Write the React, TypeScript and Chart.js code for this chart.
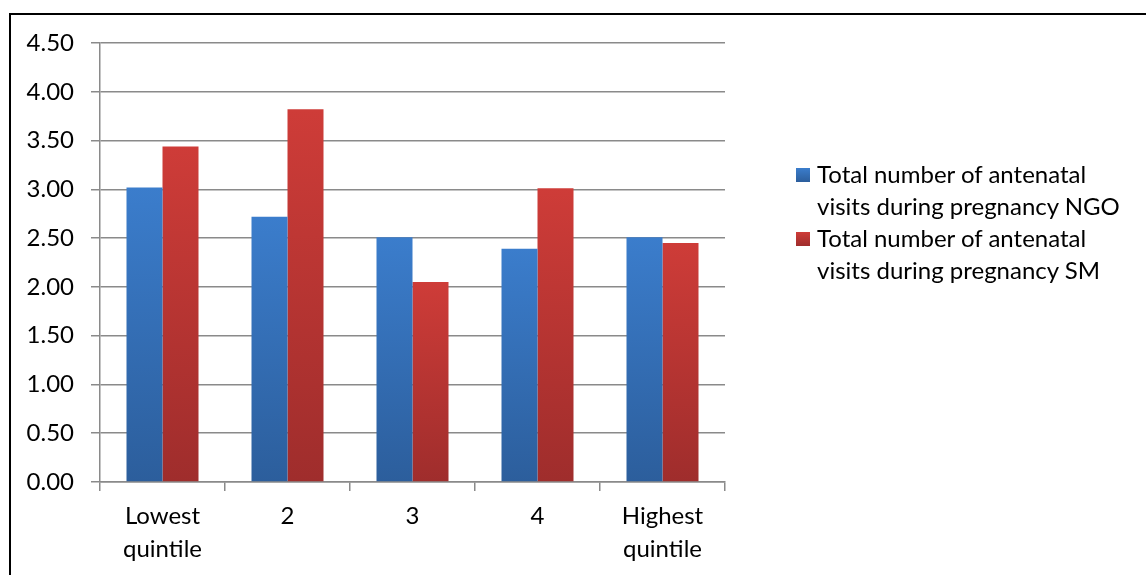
import React, { useEffect, useRef } from "react";
import { Chart, registerables } from "chart.js";
Chart.register(...registerables);

const categories: (string | string[])[] = [["Lowest", "quintile"], "2", "3", "4", ["Highest", "quintile"]];
const ngoValues = [3.02, 2.72, 2.51, 2.39, 2.51];
const smValues = [3.44, 3.82, 2.05, 3.01, 2.45];
const seriesLabels = [
  "Total number of antenatal visits during pregnancy NGO",
  "Total number of antenatal visits during pregnancy SM",
];
const yMin = 0;
const yMax = 4.5;
const yStep = 0.5;

const FONT = "Lato, 'Open Sans', sans-serif";
const blueTop = "#3b7dcc";
const blueBottom = "#2c5e9c";
const redTop = "#ce3c38";
const redBottom = "#9f2d2c";

function barGradient(top: string, bottom: string) {
  return (ctx: any) => {
    const chart = ctx.chart;
    const area = chart.chartArea;
    if (!area || ctx.type !== "data") return top;
    const yScale = chart.scales.y;
    const v = ctx.parsed ? ctx.parsed.y : 0;
    const yTop = yScale.getPixelForValue(v);
    const yBase = yScale.getPixelForValue(0);
    if (!isFinite(yTop) || yBase - yTop < 1) return top;
    const g = chart.ctx.createLinearGradient(0, yTop, 0, yBase);
    g.addColorStop(0, top);
    g.addColorStop(1, bottom);
    return g;
  };
}

export default function App() {
  const canvasRef = useRef<HTMLCanvasElement | null>(null);

  useEffect(() => {
    const canvas = canvasRef.current;
    if (!canvas) return;
    const chart = new Chart(canvas, {
      type: "bar",
      data: {
        labels: categories,
        datasets: [
          {
            label: seriesLabels[0],
            data: ngoValues,
            backgroundColor: barGradient(blueTop, blueBottom),
            borderWidth: 0,
          },
          {
            label: seriesLabels[1],
            data: smValues,
            backgroundColor: barGradient(redTop, redBottom),
            borderWidth: 0,
          },
        ],
      },
      options: {
        animation: false,
        responsive: false,
        maintainAspectRatio: false,
        layout: { padding: { left: 0, right: 421, top: 43, bottom: 0 } },
        plugins: {
          legend: { display: false },
          tooltip: { enabled: false },
        },
        datasets: {
          bar: { categoryPercentage: 0.576, barPercentage: 1 },
        },
        scales: {
          x: {
            offset: true,
            grid: {
              offset: true,
              drawOnChartArea: false,
              drawTicks: true,
              tickLength: 9,
              color: "#8a8a8a",
              lineWidth: 1.5,
            },
            border: { display: true, color: "#8a8a8a", width: 1.5 },
            ticks: {
              color: "#000",
              font: { family: FONT, size: 24, lineHeight: 1.38 },
              padding: 9,
              maxRotation: 0,
              autoSkip: false,
            },
            afterFit: (scale: any) => {
              scale.height = 93;
            },
          },
          y: {
            min: yMin,
            max: yMax,
            ticks: {
              stepSize: yStep,
              color: "#000",
              font: { family: FONT, size: 24 },
              padding: 17,
              callback: (v: any) => Number(v).toFixed(2),
            },
            grid: {
              color: "#8a8a8a",
              lineWidth: 1.5,
              tickLength: 9,
              drawTicks: true,
            },
            border: { display: true, color: "#8a8a8a", width: 1.5 },
            afterFit: (scale: any) => {
              scale.width = 100;
            },
          },
        },
      },
    });
    return () => chart.destroy();
  }, []);

  const swatches = [blueTop, redTop];
  const swatchBottoms = [blueBottom, redBottom];

  return (
    <div
      style={{
        position: "fixed",
        left: 0,
        top: 0,
        width: 1146,
        height: 575,
        overflow: "hidden",
        background: "#fff",
      }}
    >
      <div
        style={{
          position: "absolute",
          left: 9,
          top: 13,
          width: 1200,
          height: 620,
          border: "2px solid #000",
          boxSizing: "border-box",
        }}
      />
      <canvas
        ref={canvasRef}
        width={1146}
        height={575}
        style={{ position: "absolute", left: 0, top: 0, width: 1146, height: 575 }}
      />
      <div
        style={{
          position: "absolute",
          left: 796,
          top: 158,
          width: 345,
          fontFamily: FONT,
          fontSize: 24,
          lineHeight: "32px",
          color: "#000",
        }}
      >
        {seriesLabels.map((label, i) => (
          <div key={i} style={{ display: "flex", alignItems: "flex-start" }}>
            <div
              style={{
                width: 14,
                height: 14,
                marginTop: 10,
                marginRight: 7,
                flex: "0 0 auto",
                background: `linear-gradient(${swatches[i]}, ${swatchBottoms[i]})`,
              }}
            />
            <div style={{ width: 318 }}>{label}</div>
          </div>
        ))}
      </div>
    </div>
  );
}
